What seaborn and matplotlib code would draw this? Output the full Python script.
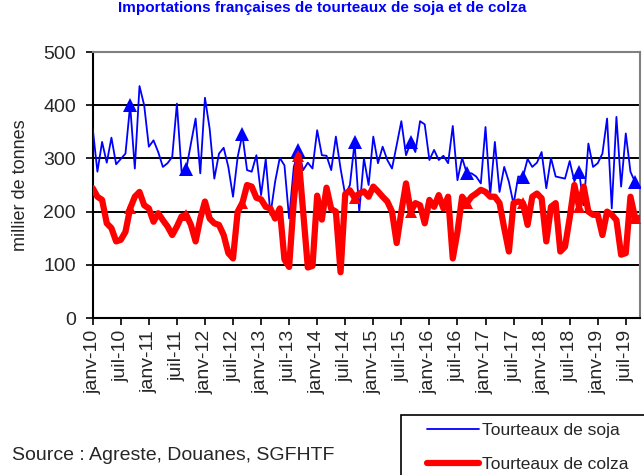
import numpy as np
import pandas as pd
import matplotlib
matplotlib.use("Agg")
import matplotlib.pyplot as plt
from matplotlib.lines import Line2D
from matplotlib.patches import Rectangle
import seaborn as sns

# monthly imports, janv-10 .. oct-19 (milliers de tonnes)
soja = [356, 275, 331, 292, 339, 289, 299, 309, 400, 281, 436, 400,
        322, 334, 312, 284, 291, 303, 403, 275, 280, 328, 375, 272,
        414, 356, 262, 309, 320, 284, 228, 303, 345, 278, 275, 306,
        231, 299, 194, 256, 301, 287, 187, 284, 315, 278, 292, 281,
        353, 306, 305, 278, 341, 281, 231, 250, 330, 200, 300, 250,
        341, 291, 322, 297, 281, 325, 370, 306, 330, 312, 370, 364,
        297, 316, 297, 305, 291, 361, 259, 301, 272, 272, 266, 253,
        359, 231, 331, 237, 284, 256, 214, 266, 265, 299, 284, 292,
        312, 244, 301, 266, 264, 262, 295, 257, 275, 212, 328, 284,
        291, 309, 375, 206, 378, 247, 347, 275, 255, 244]
colza = [244, 228, 222, 178, 169, 144, 147, 162, 206, 228, 237, 212,
         206, 181, 197, 184, 172, 156, 172, 191, 194, 175, 144, 187,
         219, 187, 178, 175, 156, 122, 112, 200, 216, 250, 247, 226,
         223, 209, 206, 187, 206, 110, 96, 220, 305, 200, 95, 98,
         230, 185, 245, 205, 200, 86, 233, 240, 226, 234, 238, 228,
         247, 238, 228, 219, 200, 141, 200, 253, 200, 216, 212, 178,
         222, 209, 231, 206, 228, 112, 162, 228, 216, 228, 234, 241,
         237, 228, 228, 216, 169, 125, 216, 219, 216, 175, 228, 234,
         225, 144, 209, 216, 125, 134, 188, 250, 209, 247, 200, 194,
         194, 156, 200, 194, 184, 119, 122, 228, 188, 188]
tick_labels = ["janv-10", "juil-10", "janv-11", "juil-11", "janv-12", "juil-12",
               "janv-13", "juil-13", "janv-14", "juil-14", "janv-15", "juil-15",
               "janv-16", "juil-16", "janv-17", "juil-17", "janv-18", "juil-18",
               "janv-19", "juil-19"]
marker_months = [8, 20, 32, 44, 56, 68, 80, 92, 104, 116]

df = pd.DataFrame({"mois": np.arange(len(soja)), "soja": soja, "colza": colza})

sns.set_style("white")
plt.rcParams["font.family"] = ["Liberation Sans", "DejaVu Sans"]

W, H = 644, 475
fig = plt.figure(figsize=(W / 100, H / 100), dpi=100)
ax = fig.add_axes([0.144, 0.3305, 0.8495, 0.56])

for y in [100, 200, 300, 400]:
    ax.axhline(y, color="black", lw=1.4, zorder=1)

sns.lineplot(data=df, x="mois", y="soja", ax=ax, color="#0000FF", lw=1.3,
             marker="^", markevery=marker_months, markersize=10, markeredgewidth=0,
             legend=False, zorder=3)
sns.lineplot(data=df, x="mois", y="colza", ax=ax, color="#FF0000", lw=4.5,
             marker="^", markevery=marker_months, markersize=9, markeredgewidth=0,
             legend=False, zorder=4)

ax.set_xlim(0, len(soja) - 1)
ax.set_ylim(0, 500)
ax.set_yticks([0, 100, 200, 300, 400, 500])
ax.set_xticks(np.arange(0, 6 * len(tick_labels), 6))
ax.set_xticklabels(tick_labels, rotation=90)
ax.tick_params(axis="both", labelsize=14, direction="out", length=5, width=1.2,
               color="black", bottom=True, left=True)
ax.tick_params(axis="y", pad=7)
ax.set_xlabel("")
ax.set_ylabel("millier de tonnes", fontsize=13, labelpad=10)

for side in ["left", "bottom"]:
    ax.spines[side].set_color("black")
    ax.spines[side].set_linewidth(1.5)
for side in ["top", "right"]:
    ax.spines[side].set_color("#808080")
    ax.spines[side].set_linewidth(1.5)

# legend box, cut by the bottom edge as in the original
fig.patches.append(Rectangle((400.6 / W, -0.1), 0.5, 0.1 + (H - 414.6) / H,
                             transform=fig.transFigure, fill=False,
                             edgecolor="black", lw=1.2))
handles = [Line2D([], [], color="#0000FF", lw=1.3), Line2D([], [], color="#FF0000", lw=4.5)]
fig.legend(handles, ["Tourteaux de soja", "Tourteaux de colza"], loc="upper left",
           bbox_to_anchor=(427 / W, 1 - 423 / H), fontsize=12.5, frameon=False,
           handlelength=3.0, handletextpad=0.17, labelspacing=1.1, borderpad=0,
           borderaxespad=0)

fig.text(12 / W, 1 - 455 / H, "Source : Agreste, Douanes, SGFHTF", fontsize=14,
         va="center", ha="left")
fig.text(0.5, 1 - 1 / H, "Importations françaises de tourteaux de soja et de colza",
         fontsize=11, fontweight="bold", color="#0000FF", ha="center", va="top")

fig.savefig("out.png", dpi=100)
